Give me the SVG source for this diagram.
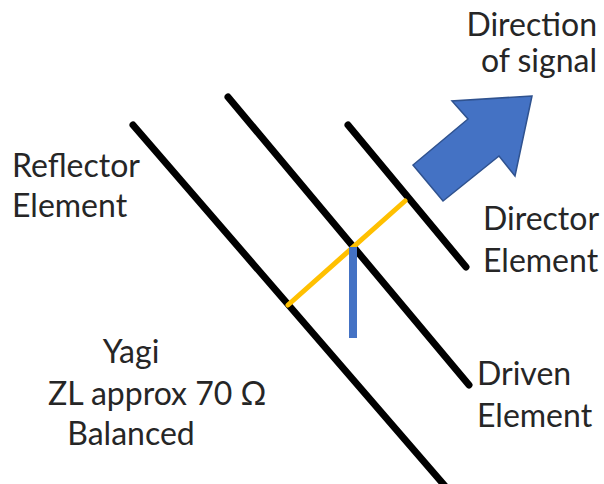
<svg xmlns="http://www.w3.org/2000/svg" width="604" height="484" viewBox="0 0 604 484">
<style>
.el{stroke:#000;stroke-width:7;stroke-linecap:round;fill:none}
.t{font-family:Lato,"Liberation Sans",sans-serif;font-size:32px;fill:#262626}
</style>
<rect width="604" height="484" fill="#fff"/>
<g id="reflector"><line class="el" x1="133" y1="125" x2="445" y2="486"/></g>
<g id="driven"><line class="el" x1="228" y1="97" x2="469" y2="385"/></g>
<g id="director"><line class="el" x1="348" y1="125" x2="466" y2="267"/></g>
<g id="connectors">
<line x1="288" y1="305" x2="405" y2="201" stroke="#FFC000" stroke-width="5" stroke-linecap="round"/>
<line x1="353" y1="247" x2="353" y2="338" stroke="#4472C4" stroke-width="8"/>
</g>
<g id="arrow"><polygon points="532,96 452,101 468,119 413,165 443,201 499,156 515,176" fill="#4472C4" stroke="#2F528F" stroke-width="1.5" stroke-linejoin="miter"/></g>
<g id="label-direction">
<text class="t" x="597" y="36" text-anchor="end">Direction</text>
<text class="t" x="597" y="72" text-anchor="end">of signal</text>
</g>
<g id="label-reflector">
<text class="t" x="12" y="177">Reflector</text>
<text class="t" x="12" y="217">Element</text>
</g>
<g id="label-director">
<text class="t" x="483" y="230">Director</text>
<text class="t" x="483" y="272">Element</text>
</g>
<g id="label-driven">
<text class="t" x="477" y="385">Driven</text>
<text class="t" x="477" y="427">Element</text>
</g>
<g id="label-yagi">
<text class="t" x="131" y="363" text-anchor="middle">Yagi</text>
<text class="t" x="48" y="405">ZL approx 70 Ω</text>
<text class="t" x="131" y="445" text-anchor="middle">Balanced</text>
</g>
</svg>
